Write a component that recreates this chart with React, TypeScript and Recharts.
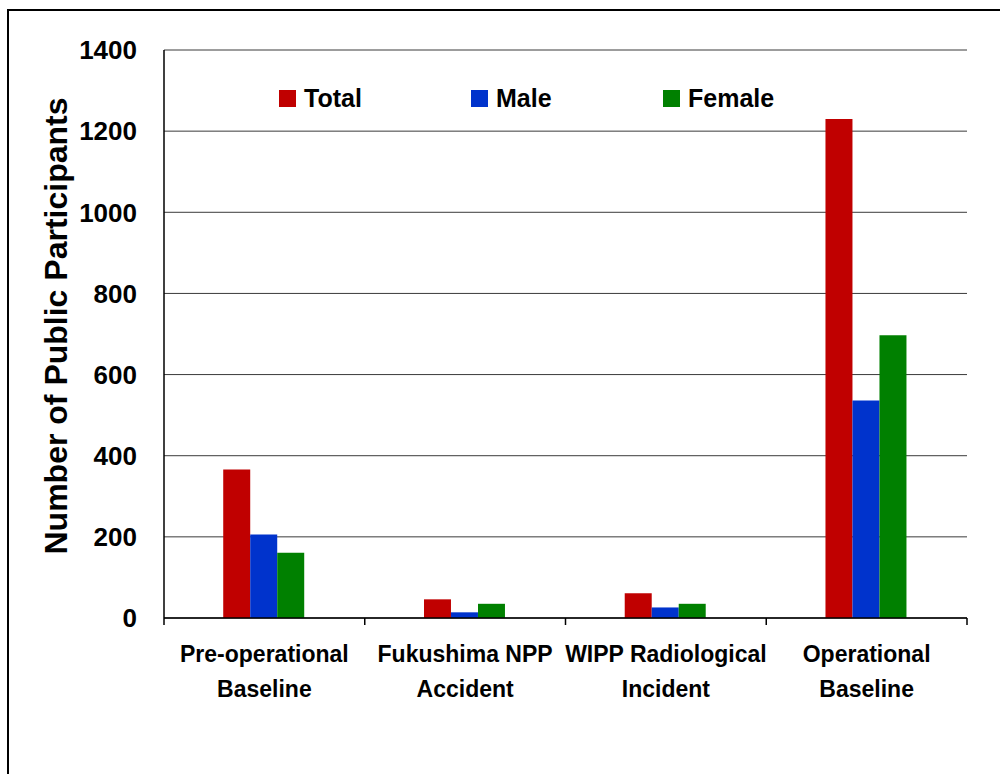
import { Bar, BarChart, CartesianGrid, Legend, XAxis, YAxis } from "recharts";

const FONT = "'Liberation Sans', Arial, sans-serif";
const INK = "#000000";
const GRID = "#3a3a3a";
const BORDER = "#666666";
const TOTAL = "#c00000";
const MALE = "#0033cc";
const FEMALE = "#008000";

const CATEGORIES = [
  "Pre-operational\nBaseline",
  "Fukushima NPP\nAccident",
  "WIPP Radiological\nIncident",
  "Operational\nBaseline",
];
const SERIES_NAMES = ["Total", "Male", "Female"];
const TOTAL_VALUES = [366, 46, 61, 1230];
const MALE_VALUES = [206, 14, 26, 536];
const FEMALE_VALUES = [161, 35, 35, 697];
const Y_TICKS = [0, 200, 400, 600, 800, 1000, 1200, 1400];
const Y_TITLE = "Number of Public Participants";

const data = CATEGORIES.map((name, i) => ({
  name,
  total: TOTAL_VALUES[i],
  male: MALE_VALUES[i],
  female: FEMALE_VALUES[i],
}));

/** Two-line category label plus Excel-style tick marks on the category edges. */
function CategoryTick({
  x = 0,
  y = 0,
  index = 0,
  payload,
}: {
  x?: number;
  y?: number;
  index?: number;
  payload?: { value: string; offset?: number };
}) {
  const lines = String(payload?.value ?? "").split("\n");
  const half = payload?.offset ?? 0;
  const isLast = index === CATEGORIES.length - 1;
  return (
    <g>
      <line x1={x - half} x2={x - half} y1={y} y2={y + 7} stroke={INK} strokeWidth={1.5} />
      {isLast && <line x1={x + half} x2={x + half} y1={y} y2={y + 7} stroke={INK} strokeWidth={1.5} />}
      <text x={x} y={y} textAnchor="middle" fill={INK} fontSize={23} fontWeight="bold" fontFamily={FONT}>
        {lines.map((line, i) => (
          <tspan key={i} x={x} dy={i === 0 ? 44 : 35}>
            {line}
          </tspan>
        ))}
      </text>
    </g>
  );
}

function YTitle({ viewBox }: { viewBox?: { x: number; y: number; width: number; height: number } }) {
  if (!viewBox) return null;
  const cx = viewBox.x + 56;
  const cy = viewBox.y + viewBox.height / 2 - 8;
  return (
    <text
      x={cx}
      y={cy}
      transform={`rotate(-90, ${cx}, ${cy})`}
      textAnchor="middle"
      dominantBaseline="central"
      fill={INK}
      fontSize={32}
      fontWeight="bold"
      fontFamily={FONT}
    >
      {Y_TITLE}
    </text>
  );
}

function LegendRow({ payload }: { payload?: { value?: string; color?: string }[] }) {
  const items = [...(payload ?? [])].sort(
    (a, b) => SERIES_NAMES.indexOf(a.value ?? "") - SERIES_NAMES.indexOf(b.value ?? "")
  );
  return (
    <div style={{ display: "flex", fontFamily: FONT }}>
      {items.map((p) => (
        <div key={p.value} style={{ width: 192, display: "flex", alignItems: "center" }}>
          <span style={{ width: 17, height: 17, background: p.color, marginRight: 8 }} />
          <span style={{ fontSize: 25, fontWeight: "bold", color: INK }}>{p.value}</span>
        </div>
      ))}
    </div>
  );
}

export default function App() {
  return (
    <div
      style={{
        position: "absolute",
        left: 0,
        top: 0,
        width: 1000,
        height: 774,
        overflow: "hidden",
        background: "#fff",
      }}
    >
      <div
        style={{
          position: "absolute",
          left: 7,
          top: 9,
          width: 1100,
          height: 900,
          border: "2px solid #000",
        }}
      />
      <div style={{ position: "absolute", left: 0, top: 0 }}>
        <BarChart
          width={1000}
          height={774}
          data={data}
          margin={{ top: 50, right: 33, bottom: 0, left: 0 }}
          barCategoryGap="29.5%"
          barGap={0}
          style={{ fontFamily: FONT }}
        >
          <CartesianGrid stroke={GRID} strokeWidth={1} vertical={false} />
          <XAxis
            dataKey="name"
            height={156}
            interval={0}
            tick={<CategoryTick />}
            tickLine={false}
            tickSize={0}
            tickMargin={0}
            axisLine={{ stroke: INK, strokeWidth: 1.5 }}
          />
          <YAxis
            width={164}
            domain={[0, 1400]}
            ticks={Y_TICKS}
            tickLine={false}
            tickSize={0}
            tickMargin={27}
            axisLine={{ stroke: INK, strokeWidth: 1.5 }}
            tick={{ fill: INK, fontSize: 26, fontWeight: "bold", fontFamily: FONT }}
            label={<YTitle />}
          />
          <YAxis
            yAxisId="frame"
            orientation="right"
            width={0}
            domain={[0, 1400]}
            tick={false}
            tickLine={false}
            axisLine={{ stroke: BORDER, strokeWidth: 1.5 }}
          />
          <Legend
            layout="horizontal"
            verticalAlign="middle"
            align="center"
            content={<LegendRow />}
            wrapperStyle={{ position: "absolute", top: 84, left: 279, width: 600 }}
          />
          <Bar dataKey="total" name="Total" fill={TOTAL} isAnimationActive={false} />
          <Bar dataKey="male" name="Male" fill={MALE} isAnimationActive={false} />
          <Bar dataKey="female" name="Female" fill={FEMALE} isAnimationActive={false} />
        </BarChart>
      </div>
    </div>
  );
}
